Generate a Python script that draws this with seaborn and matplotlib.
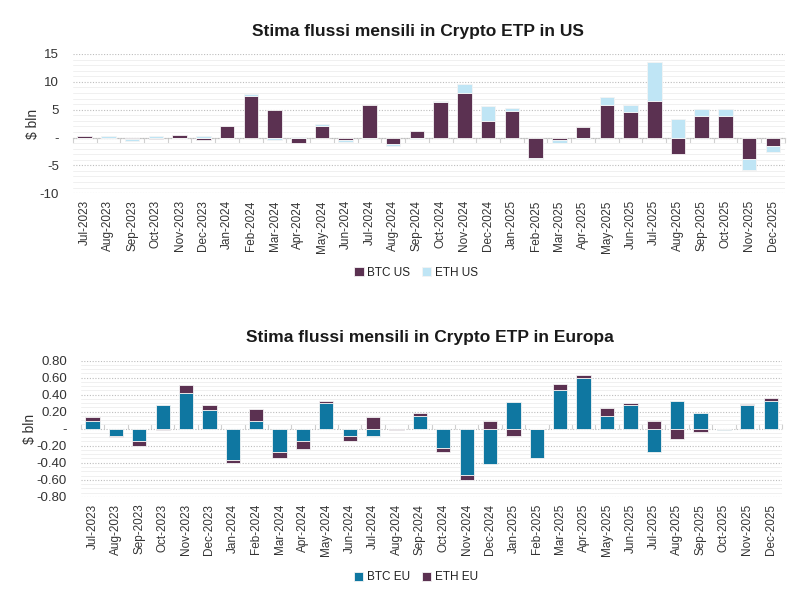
import numpy as np
import pandas as pd
import matplotlib
matplotlib.use("Agg")
import matplotlib.pyplot as plt
from matplotlib.ticker import MultipleLocator, FuncFormatter, NullFormatter
import seaborn as sns

months = ["Jul-2023", "Aug-2023", "Sep-2023", "Oct-2023", "Nov-2023", "Dec-2023",
          "Jan-2024", "Feb-2024", "Mar-2024", "Apr-2024", "May-2024", "Jun-2024",
          "Jul-2024", "Aug-2024", "Sep-2024", "Oct-2024", "Nov-2024", "Dec-2024",
          "Jan-2025", "Feb-2025", "Mar-2025", "Apr-2025", "May-2025", "Jun-2025",
          "Jul-2025", "Aug-2025", "Sep-2025", "Oct-2025", "Nov-2025", "Dec-2025"]

btc_us = [0.3, 0.0, -0.3, -0.2, 0.5, -0.4, 2.1, 7.5, 4.9, -0.9, 2.0, -0.5,
          5.9, -1.2, 1.1, 6.3, 8.0, 2.9, 4.85, -3.7, -0.4, 1.85, 5.9, 4.55,
          6.6, -3.0, 3.95, 3.85, -3.8, -1.55]
eth_us = [-0.1, 0.35, -0.25, 0.2, -0.1, 0.2, -0.1, 0.3, -0.4, 0.15, 0.35, -0.25,
          -0.2, -0.25, -0.2, 0.3, 1.6, 2.7, 0.4, -0.2, -0.6, -0.2, 1.3, 1.25,
          6.95, 3.3, 1.1, 1.2, -2.1, -1.0]

btc_eu = [0.09, -0.09, -0.15, 0.28, 0.42, 0.22, -0.37, 0.09, -0.27, -0.15, 0.30, -0.09,
          -0.085, 0.0, 0.145, -0.225, -0.54, -0.41, 0.31, -0.34, 0.46, 0.59, 0.145, 0.28,
          -0.27, 0.32, 0.19, -0.02, 0.28, 0.33]
eth_eu = [0.05, -0.01, -0.05, -0.02, 0.09, 0.06, -0.03, 0.14, -0.08, -0.085, 0.03, -0.06,
          0.14, -0.02, 0.04, -0.05, -0.065, 0.09, -0.09, 0.0, 0.06, 0.04, 0.10, 0.02,
          0.09, -0.12, -0.04, 0.0, 0.005, 0.035]

title_us = "Stima flussi mensili in Crypto ETP in US"
title_eu = "Stima flussi mensili in Crypto ETP in Europa"
ylabel = "$ bln"

C_PURPLE = "#5B3151"
C_LIGHT = "#BFE5F5"
C_TEAL = "#0F77A1"

sns.set_style("white")
plt.rcParams["font.family"] = ["Liberation Sans", "DejaVu Sans"]
plt.rcParams["text.color"] = "#222222"

fig = plt.figure(figsize=(8, 6), dpi=100)
ax1 = fig.add_axes([0.091, 0.678, 0.890, 0.232])
ax2 = fig.add_axes([0.101, 0.172, 0.877, 0.227])


def stacked(ax, first, second, c1, c2, l1, l2):
    a = np.array(first, dtype=float)
    b = np.array(second, dtype=float)
    bottom = np.where(b >= 0, np.maximum(a, 0), np.minimum(a, 0))
    df = pd.DataFrame({"month": months, "a": a, "b": b})
    sns.barplot(data=df, x="month", y="a", color=c1, saturation=1, width=0.61,
                edgecolor="#F4F4F4", linewidth=0.6, label=l1, ax=ax, zorder=3)
    sns.barplot(data=df, x="month", y="b", color=c2, saturation=1, width=0.61,
                edgecolor="#F4F4F4", linewidth=0.6, label=l2, ax=ax,
                bottom=bottom, zorder=3)


def style(ax, ymin, ymax, major, minor, fmt):
    ax.set_ylim(ymin, ymax)
    ax.set_xlim(-0.5, len(months) - 0.5)
    ax.yaxis.set_major_locator(MultipleLocator(major))
    ax.yaxis.set_minor_locator(MultipleLocator(minor))
    ax.yaxis.set_major_formatter(FuncFormatter(fmt))
    ax.grid(False)
    ax.grid(which="minor", axis="y", color="#F0F0F0", lw=0.7, ls="-", zorder=0)
    ax.grid(which="major", axis="y", color="#BDBDBD", lw=0.8, ls=(0, (1, 1.5)), zorder=0)
    ax.set_axisbelow(True)
    for s in ax.spines.values():
        s.set_visible(False)
    ax.tick_params(axis="y", which="both", length=0, pad=10, labelsize=9.5, labelcolor="#333333")
    ax.tick_params(axis="x", which="both", length=0, pad=5, labelsize=8.5, labelcolor="#333333")
    ax.set_xticks(range(len(months)))
    ax.set_xticklabels(months, rotation=90)
    ax.set_xlabel("")
    ax.set_ylabel(ylabel, fontsize=10, color="#333333", labelpad=0)
    # zero axis line with category-boundary ticks
    frac = (0 - ymin) / (ymax - ymin)
    sec = ax.secondary_xaxis(frac)
    sec.set_xticks(np.arange(-0.5, len(months) + 0.5, 1.0))
    sec.xaxis.set_major_formatter(NullFormatter())
    sec.tick_params(axis="x", direction="out", length=3.5, width=0.8, color="#D0D0D0")
    sec.spines["bottom"].set_color("#D0D0D0")
    sec.spines["bottom"].set_linewidth(0.9)
    sec.spines["top"].set_visible(False)
    for side in ["left", "right"]:
        if side in sec.spines:
            sec.spines[side].set_visible(False)


def fmt_us(v, pos):
    if abs(v) < 1e-9:
        return "-"
    return f"{v:.0f}"


def fmt_eu(v, pos):
    if abs(v) < 1e-9:
        return "-"
    return f"{v:.2f}"


stacked(ax1, btc_us, eth_us, C_PURPLE, C_LIGHT, "BTC US", "ETH US")
style(ax1, -10, 15, 5, 1, fmt_us)
stacked(ax2, btc_eu, eth_eu, C_TEAL, C_PURPLE, "BTC EU", "ETH EU")
style(ax2, -0.8, 0.8, 0.2, 0.05, fmt_eu)

for ax, y in [(ax1, 0.545), (ax2, 0.038)]:
    h, l = ax.get_legend_handles_labels()
    ax.legend(h, l, loc="center", bbox_to_anchor=(0.52, y), bbox_transform=fig.transFigure,
              ncol=2, frameon=False, fontsize=8.5, handlelength=0.8, handleheight=0.8,
              handletextpad=0.3, columnspacing=1.0)

fig.text(0.522, 0.947, title_us, ha="center", va="center", fontsize=12.5,
         fontweight="bold", color="#1a1a1a")
fig.text(0.537, 0.437, title_eu, ha="center", va="center", fontsize=12.5,
         fontweight="bold", color="#1a1a1a")

fig.savefig("out.png", dpi=100)
